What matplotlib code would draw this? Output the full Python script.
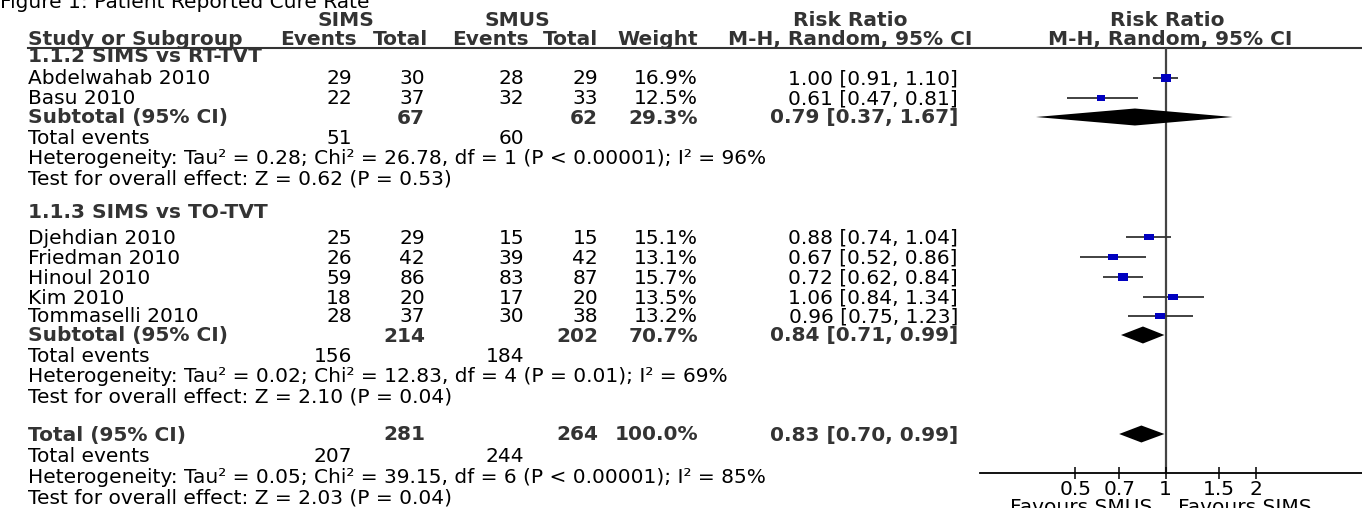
import matplotlib
matplotlib.use("Agg")
import matplotlib.pyplot as plt
import numpy as np
from matplotlib.path import Path
from matplotlib.ticker import FixedLocator, FixedFormatter, NullLocator

plt.rcParams['font.family'] = ['DejaVu Sans']

# Data
groups = ["1.1.2 SIMS vs RT-TVT", "1.1.3 SIMS vs TO-TVT"]
studies = ["Abdelwahab 2010", "Basu 2010", "Djehdian 2010", "Friedman 2010",
           "Hinoul 2010", "Kim 2010", "Tommaselli 2010"]
sims_events = [29, 22, 25, 26, 59, 18, 28]
sims_total = [30, 37, 29, 42, 86, 20, 37]
smus_events = [28, 32, 15, 39, 83, 17, 30]
smus_total = [29, 33, 15, 42, 87, 20, 38]
weights = [16.9, 12.5, 15.1, 13.1, 15.7, 13.5, 13.2]
rr = [1.00, 0.61, 0.88, 0.67, 0.72, 1.06, 0.96]
rr_lo = [0.91, 0.47, 0.74, 0.52, 0.62, 0.84, 0.75]
rr_hi = [1.10, 0.81, 1.04, 0.86, 0.84, 1.34, 1.23]

sub_sims_total = [67, 214]
sub_smus_total = [62, 202]
sub_weight = [29.3, 70.7]
sub_rr = [0.79, 0.84]
sub_lo = [0.37, 0.71]
sub_hi = [1.67, 0.99]
sub_sims_events = [51, 156]
sub_smus_events = [60, 184]
sub_tau2 = [0.28, 0.02]
sub_chi2 = [26.78, 12.83]
sub_df = [1, 4]
sub_p = ["P < 0.00001", "P = 0.01"]
sub_i2 = [96, 69]
sub_z = [0.62, 2.10]
sub_pz = [0.53, 0.04]

tot_sims_total, tot_smus_total, tot_weight = 281, 264, 100.0
tot_rr, tot_lo, tot_hi = 0.83, 0.70, 0.99
tot_sims_events, tot_smus_events = 207, 244
tot_tau2, tot_chi2, tot_df, tot_p, tot_i2 = 0.05, 39.15, 6, "P < 0.00001", 85
tot_z, tot_pz = 2.03, 0.04

ticks = [0.5, 0.7, 1, 1.5, 2]
tick_labels = ["0.5", "0.7", "1", "1.5", "2"]

# Layout (pixels)
W, H = 1362, 508
FS = 14.5
DARK = "#333333"
X_NAME = 28
X_SE, X_ST, X_UE, X_UT, X_WT, X_RR = 352, 425, 524, 598, 698, 958
OFF = 6.5  # baseline offset from row centre

fig = plt.figure(figsize=(W / 100, H / 100), dpi=100)
ax_t = fig.add_axes([0, 0, 1, 1])
ax_t.set_xlim(0, W)
ax_t.set_ylim(H, 0)
ax_t.axis('off')


def txt(x, y, s, ha='left', bold=False, color='black'):
    ax_t.text(x, y + OFF, s, ha=ha, va='baseline', fontsize=FS,
              fontweight='bold' if bold else 'normal', color=color)


# title and headers
txt(0, 1, "Figure 1: Patient Reported Cure Rate")
txt(346, 19, "SIMS", ha='center', bold=True, color=DARK)
txt(517, 19, "SMUS", ha='center', bold=True, color=DARK)
txt(850, 19, "Risk Ratio", ha='center', bold=True, color=DARK)
txt(1167, 19, "Risk Ratio", ha='center', bold=True, color=DARK)
txt(X_NAME, 38.5, "Study or Subgroup", bold=True, color=DARK)
txt(X_SE + 5, 38.5, "Events", ha='right', bold=True, color=DARK)
txt(X_ST + 3, 38.5, "Total", ha='right', bold=True, color=DARK)
txt(X_UE + 5, 38.5, "Events", ha='right', bold=True, color=DARK)
txt(X_UT, 38.5, "Total", ha='right', bold=True, color=DARK)
txt(X_WT, 38.5, "Weight", ha='right', bold=True, color=DARK)
txt(850, 38.5, "M-H, Random, 95% CI", ha='center', bold=True, color=DARK)
txt(1170, 38.5, "M-H, Random, 95% CI", ha='center', bold=True, color=DARK)
ax_t.axhline(47.5, xmin=X_NAME / W, xmax=1, color=DARK, lw=1.5)

# row positions
group_y = [56, 212]
study_y = [78, 98, 237, 257, 277, 297, 316]
sub_y = [117, 335]
tot_y = 434

# forest axes
ax = fig.add_axes([980 / W, (H - 473) / H, (W - 980) / W, (473 - 47.5) / H])
ax.set_xscale('log')
ax.set_xlim(0.241, 4.5)
ax.set_ylim(473, 47.5)
ax.patch.set_visible(False)
for s in ['left', 'right', 'top']:
    ax.spines[s].set_visible(False)
ax.spines['bottom'].set_linewidth(1.3)
ax.yaxis.set_major_locator(NullLocator())
ax.xaxis.set_major_locator(FixedLocator(ticks))
ax.xaxis.set_major_formatter(FixedFormatter(tick_labels))
ax.xaxis.set_minor_locator(NullLocator())
ax.tick_params(axis='x', direction='inout', length=8, width=1.1, labelsize=FS, pad=1)
ax.axvline(1, color="#444444", lw=1.6, zorder=1)

box = Path([(-1, -0.7), (1, -0.7), (1, 0.7), (-1, 0.7), (-1, -0.7)],
           [Path.MOVETO, Path.LINETO, Path.LINETO, Path.LINETO, Path.CLOSEPOLY])


def diamond(lo, mid, hi, y, h=8.5):
    ax.fill([lo, mid, hi, mid], [y, y - h, y, y + h], color='black', lw=0, zorder=3)


for i, name in enumerate(studies):
    y = study_y[i]
    txt(X_NAME, y, name)
    txt(X_SE, y, str(sims_events[i]), ha='right')
    txt(X_ST, y, str(sims_total[i]), ha='right')
    txt(X_UE, y, str(smus_events[i]), ha='right')
    txt(X_UT, y, str(smus_total[i]), ha='right')
    txt(X_WT, y, f"{weights[i]:.1f}%", ha='right')
    txt(X_RR, y, f"{rr[i]:.2f} [{rr_lo[i]:.2f}, {rr_hi[i]:.2f}]", ha='right')
    ax.hlines(y, rr_lo[i], rr_hi[i], color="#333333", lw=1.3, zorder=2)
    ax.plot([rr[i]], [y], marker=box, markersize=7.5 * np.sqrt(weights[i] / 16.9),
            color="#0000c0", markeredgewidth=0, linestyle='none', zorder=4)

for g, gname in enumerate(groups):
    txt(X_NAME, group_y[g], gname, bold=True, color=DARK)
    y = sub_y[g]
    txt(X_NAME, y, "Subtotal (95% CI)", bold=True, color=DARK)
    txt(X_ST, y, str(sub_sims_total[g]), ha='right', bold=True, color=DARK)
    txt(X_UT, y, str(sub_smus_total[g]), ha='right', bold=True, color=DARK)
    txt(X_WT, y, f"{sub_weight[g]:.1f}%", ha='right', bold=True, color=DARK)
    txt(X_RR, y, f"{sub_rr[g]:.2f} [{sub_lo[g]:.2f}, {sub_hi[g]:.2f}]", ha='right',
        bold=True, color=DARK)
    diamond(sub_lo[g], sub_rr[g], sub_hi[g], y)
    txt(X_NAME, y + 20, "Total events")
    txt(X_SE, y + 20, str(sub_sims_events[g]), ha='right')
    txt(X_UE, y + 20, str(sub_smus_events[g]), ha='right')
    txt(X_NAME, y + 40.5, f"Heterogeneity: Tau² = {sub_tau2[g]:.2f}; Chi² = {sub_chi2[g]:.2f}, "
        f"df = {sub_df[g]} ({sub_p[g]}); I² = {sub_i2[g]}%")
    txt(X_NAME, y + 61, f"Test for overall effect: Z = {sub_z[g]:.2f} (P = {sub_pz[g]:.2f})")

# overall
txt(X_NAME, tot_y, "Total (95% CI)", bold=True, color=DARK)
txt(X_ST, tot_y, str(tot_sims_total), ha='right', bold=True, color=DARK)
txt(X_UT, tot_y, str(tot_smus_total), ha='right', bold=True, color=DARK)
txt(X_WT, tot_y, f"{tot_weight:.1f}%", ha='right', bold=True, color=DARK)
txt(X_RR, tot_y, f"{tot_rr:.2f} [{tot_lo:.2f}, {tot_hi:.2f}]", ha='right', bold=True, color=DARK)
diamond(tot_lo, tot_rr, tot_hi, tot_y)
txt(X_NAME, tot_y + 22, "Total events")
txt(X_SE, tot_y + 22, str(tot_sims_events), ha='right')
txt(X_UE, tot_y + 22, str(tot_smus_events), ha='right')
txt(X_NAME, tot_y + 42.5, f"Heterogeneity: Tau² = {tot_tau2:.2f}; Chi² = {tot_chi2:.2f}, "
    f"df = {tot_df} ({tot_p}); I² = {tot_i2}%")
txt(X_NAME, tot_y + 63, f"Test for overall effect: Z = {tot_z:.2f} (P = {tot_pz:.2f})")

# favours labels (cut by the bottom edge, as in the source image)
ax_t.text(1152, 498, "Favours SMUS", ha='right', va='top', fontsize=FS)
ax_t.text(1178, 498, "Favours SIMS", ha='left', va='top', fontsize=FS)

fig.savefig("out.png", dpi=100)
